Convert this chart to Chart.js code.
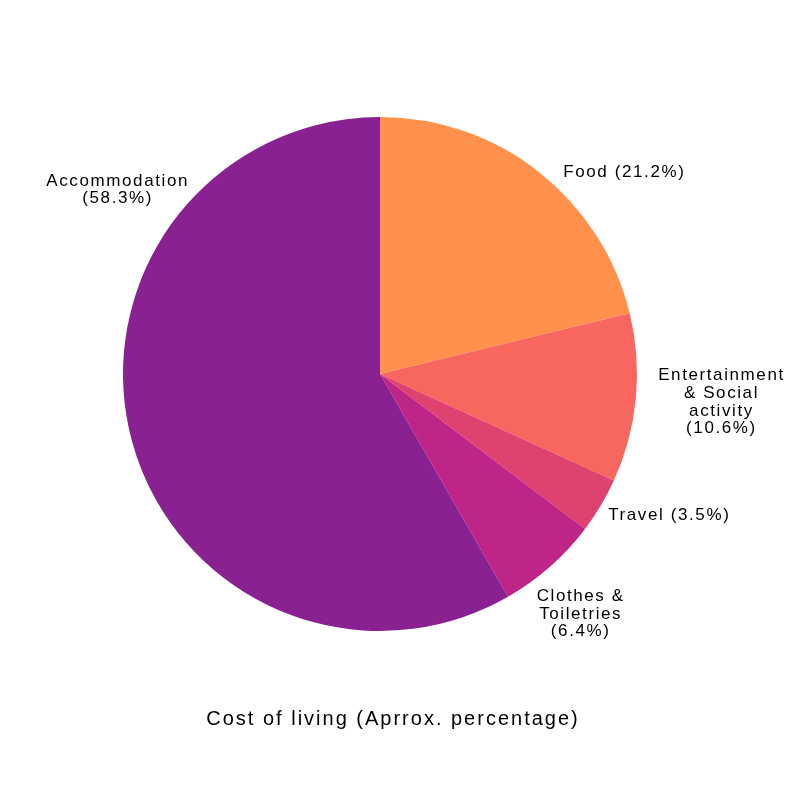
<!DOCTYPE html>
<html>
<head>
<meta charset="utf-8">
<script src="https://cdn.jsdelivr.net/npm/chart.js@4"></script>
<style>
  html, body { margin: 0; padding: 0; background: #ffffff; }
  #wrap { width: 800px; height: 800px; }
</style>
</head>
<body>
<div id="wrap"><canvas id="c" width="800" height="800"></canvas></div>
<script>
const categories = ["Food", "Entertainment & Social activity", "Travel", "Clothes & Toiletries", "Accommodation"];
const values = [21.2, 10.6, 3.5, 6.4, 58.3];
const labelLines = [
  ["Food (21.2%)"],
  ["Entertainment", "& Social", "activity", "(10.6%)"],
  ["Travel (3.5%)"],
  ["Clothes &", "Toiletries", "(6.4%)"],
  ["Accommodation", "(58.3%)"]
];
const colors = ["#FF914D", "#F7665F", "#E0426F", "#BE2587", "#8A2190"];
const titleText = "Cost of living (Aprrox. percentage)";

// label block centre: angle (deg clockwise from top) and distance as fraction of radius
const labelAngle = [50.4, 94.7, 116.1, 140.2, 305.0];
const labelDist = [1.23, 1.33, 1.25, 1.215, 1.25];

const labelPlugin = {
  id: 'outerLabels',
  afterDraw(chart) {
    const ctx = chart.ctx;
    const arcs = chart.getDatasetMeta(0).data;
    ctx.save();
    ctx.fillStyle = '#000000';
    ctx.textAlign = 'center';
    ctx.textBaseline = 'middle';
    ctx.font = '17px "Liberation Sans", Arial, sans-serif';
    ctx.letterSpacing = '1.6px';
    const lh = 17.8;
    arcs.forEach((arc, i) => {
      const a = labelAngle[i] * Math.PI / 180;
      const r = arc.outerRadius * labelDist[i];
      const cx = arc.x + r * Math.sin(a);
      const cy = arc.y - r * Math.cos(a);
      const lines = labelLines[i];
      const y0 = cy - (lines.length - 1) * lh / 2;
      lines.forEach((t, j) => ctx.fillText(t, cx + 0.8, y0 + j * lh));
    });
    ctx.font = '20px "Liberation Sans", Arial, sans-serif';
    ctx.letterSpacing = '2px';
    ctx.fillText(titleText, 393, 719);
    ctx.restore();
  }
};

new Chart(document.getElementById('c'), {
  type: 'pie',
  data: {
    labels: categories,
    datasets: [{
      data: values,
      backgroundColor: colors,
      borderWidth: 0
    }]
  },
  options: {
    responsive: false,
    animation: false,
    devicePixelRatio: 1,
    layout: { padding: { left: 123, right: 163, top: 117, bottom: 169 } },
    plugins: {
      legend: { display: false },
      tooltip: { enabled: false }
    }
  },
  plugins: [labelPlugin]
});
</script>
</body>
</html>
